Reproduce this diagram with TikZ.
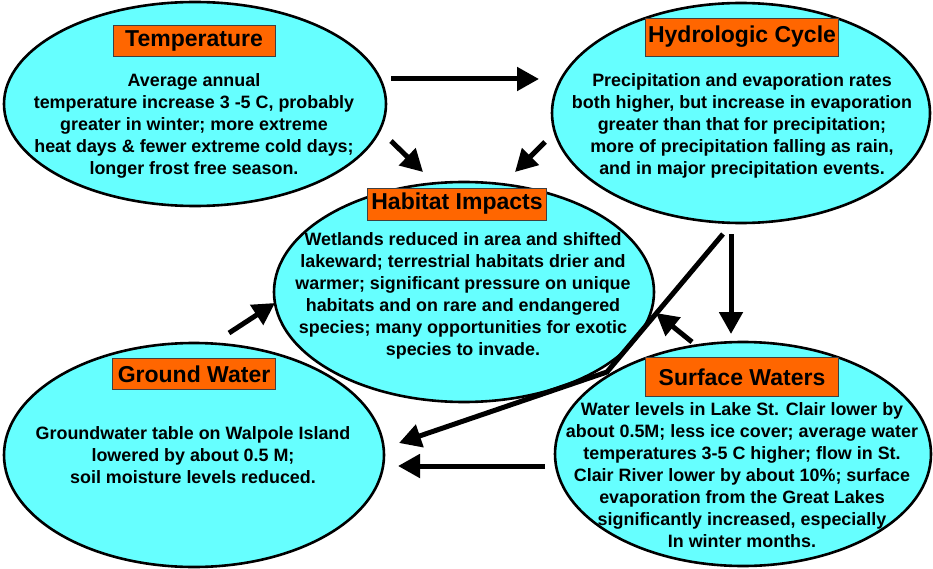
\documentclass[tikz,border=0pt]{standalone}
\usepackage{fontspec}
\setmainfont{Liberation Sans}
\usetikzlibrary{shapes.geometric,arrows.meta}
\definecolor{bubble}{HTML}{66FFFF}
\definecolor{titleorange}{HTML}{FF6600}
\tikzset{
  bubble/.style={ellipse, draw=black, line width=2.6pt, fill=bubble, inner sep=0pt},
  titlebox/.style={rectangle, draw=black!75, line width=0.8pt, fill=titleorange, inner sep=0pt,
    font={\fontsize{23}{27}\selectfont\bfseries}},
  bodytext/.style={align=center, inner sep=0pt, font={\fontsize{17.9}{22}\selectfont\bfseries}},
  arr/.style={line width=5pt, -{Triangle[length=22pt,width=23pt]}},
}
\begin{document}
\begin{tikzpicture}[x=1pt,y=-1pt]
\useasboundingbox (0,0) rectangle (933,569);
% ellipses
\node[bubble, minimum width=382pt, minimum height=204pt] (temp) at (195,104) {};
\node[bubble, minimum width=378pt, minimum height=220pt] (hydro) at (741,113) {};
\node[bubble, minimum width=380pt, minimum height=220pt] (hab) at (464,292) {};
\node[bubble, minimum width=380pt, minimum height=224pt] (ground) at (194,455) {};
\node[bubble, minimum width=376pt, minimum height=224pt] (surf) at (743,454) {};
% titles
\node[titlebox, minimum width=162pt, minimum height=31pt] (ttemp) at (194,41) {Temperature};
\node[titlebox, minimum width=193pt, minimum height=38pt] (thydro) at (742,37) {Hydrologic Cycle};
\node[titlebox, minimum width=179pt, minimum height=32pt] (thab) at (457,204) {Habitat Impacts};
\node[titlebox, minimum width=163pt, minimum height=31pt] (tground) at (194,374) {Ground Water};
\node[titlebox, minimum width=193pt, minimum height=39pt] (tsurf) at (742,377) {Surface Waters};
% body texts
\node[bodytext] (btemp) at (194,126) {Average annual\\temperature increase 3 -5 C, probably\\greater in winter; more extreme\\heat days \& fewer extreme cold days;\\longer frost free season.};
\node[bodytext] (bhydro) at (742,126) {Precipitation and evaporation rates\\both higher, but increase in evaporation\\greater than that for precipitation;\\more of precipitation falling as rain,\\and in major precipitation events.};
\node[bodytext] (bhab) at (463,296) {Wetlands reduced in area and shifted\\lakeward; terrestrial habitats drier and\\warmer; significant pressure on unique\\habitats and on rare and endangered\\species; many opportunities for exotic\\species to invade.};
\node[bodytext] (bground) at (193,455) {Groundwater table on Walpole Island\\lowered by about 0.5 M;\\soil moisture levels reduced.};
\node[bodytext] (bsurf) at (742,475) {Water levels in Lake St. Clair lower by\\about 0.5M; less ice cover; average water\\temperatures 3-5 C higher; flow in St.\\Clair River lower by about 10\%; surface\\evaporation from the Great Lakes\\significantly increased, especially\\In winter months.};
% arrow end coordinates
\coordinate (a1s) at (391,79);   \coordinate (a1e) at (539,79);
\coordinate (a2s) at (391,141);  \coordinate (a2e) at (423,172);
\coordinate (a3s) at (545,142);  \coordinate (a3e) at (515,172);
\coordinate (a4s) at (731,234);  \coordinate (a4e) at (731,334);
\coordinate (a5s) at (723,234);  \coordinate (a5m) at (607,372); \coordinate (a5e) at (399,443);
\coordinate (a6s) at (692,342);  \coordinate (a6e) at (656,313);
\coordinate (a7s) at (545,466);  \coordinate (a7e) at (398,466);
\coordinate (a8s) at (229,333);  \coordinate (a8e) at (275,303);
% arrows
\draw[arr] (a1s) -- (a1e);
\draw[arr] (a2s) -- (a2e);
\draw[arr] (a3s) -- (a3e);
\draw[arr] (a4s) -- (a4e);
\draw[arr] (a5s) -- (a5m) -- (a5e);
\draw[arr] (a6s) -- (a6e);
\draw[arr] (a7s) -- (a7e);
\draw[arr] (a8s) -- (a8e);
\end{tikzpicture}
\end{document}
